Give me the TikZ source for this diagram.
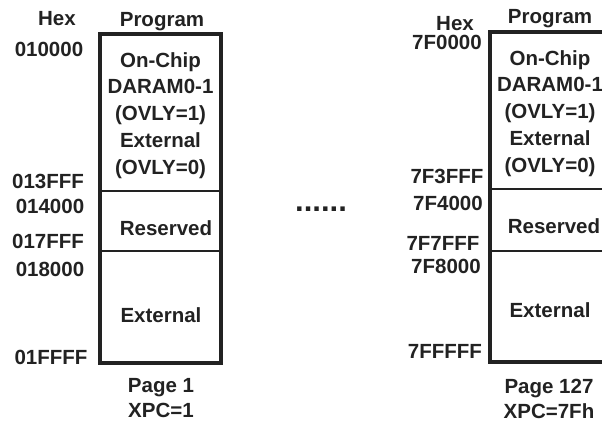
\documentclass[tikz,border=0pt]{standalone}
\usepackage{fontspec}
\setmainfont{Liberation Sans}
\definecolor{ink}{HTML}{222222}
\begin{document}
\begin{tikzpicture}[x=1pt,y=-1pt,
  txt/.style={font=\bfseries\fontsize{20.5}{26.7}\selectfont, inner sep=0pt, text=ink, anchor=base, align=center},
  pg/.style={font=\bfseries\fontsize{20.5}{24.5}\selectfont, inner sep=0pt, text=ink, anchor=base, align=center},
  frame/.style={draw=ink, line width=3.2pt},
  divider/.style={draw=ink, line width=1.2pt}]
\useasboundingbox (0,0) rectangle (602,421);
% ---------- Page 1 ----------
\draw[frame] (100,34) rectangle (221,363);
\draw[divider] (100,191) -- (221,191);
\draw[divider] (100,251) -- (221,251);
\node[txt] (hexA) at (57,25) {Hex};
\node[txt] (progA) at (162,26) {Program};
\node[txt] (a1) at (49,56) {010000};
\node[txt] (a2) at (48,188) {013FFF};
\node[txt] (a3) at (50,213) {014000};
\node[txt] (a4) at (48,248) {017FFF};
\node[txt] (a5) at (50,276) {018000};
\node[txt] (a6) at (51,364) {01FFFF};
\node[txt] (ovA) at (160.5,174) {On-Chip\\DARAM0-1\\(OVLY=1)\\External\\(OVLY=0)};
\node[txt] (resA) at (166,235) {Reserved};
\node[txt] (extA) at (161,322) {External};
\node[pg] (pageA) at (161,417) {Page 1\\XPC=1};
% ---------- dots ----------
\node[font=\bfseries\fontsize{31}{31}\selectfont, inner sep=0pt, text=ink, anchor=base] (dots) at (321,211) {......};
% ---------- Page 127 ----------
\draw[frame] (490,32) rectangle (614,362);
\draw[divider] (490,189) -- (614,189);
\draw[divider] (490,251) -- (614,251);
\node[txt] (hexB) at (455,30) {Hex};
\node[txt] (progB) at (550,23) {Program};
\node[txt] (b1) at (447,49) {7F0000};
\node[txt] (b2) at (447,183) {7F3FFF};
\node[txt] (b3) at (448,210) {7F4000};
\node[txt] (b4) at (443,250) {7F7FFF};
\node[txt] (b5) at (446,273) {7F8000};
\node[txt] (b6) at (445,358) {7FFFFF};
\node[txt] (ovB) at (550,172) {On-Chip\\DARAM0-1\\(OVLY=1)\\External\\(OVLY=0)};
\node[txt] (resB) at (554,233) {Reserved};
\node[txt] (extB) at (550,317) {External};
\node[pg] (pageB) at (549,418) {Page 127\\XPC=7Fh};
\end{tikzpicture}
\end{document}
